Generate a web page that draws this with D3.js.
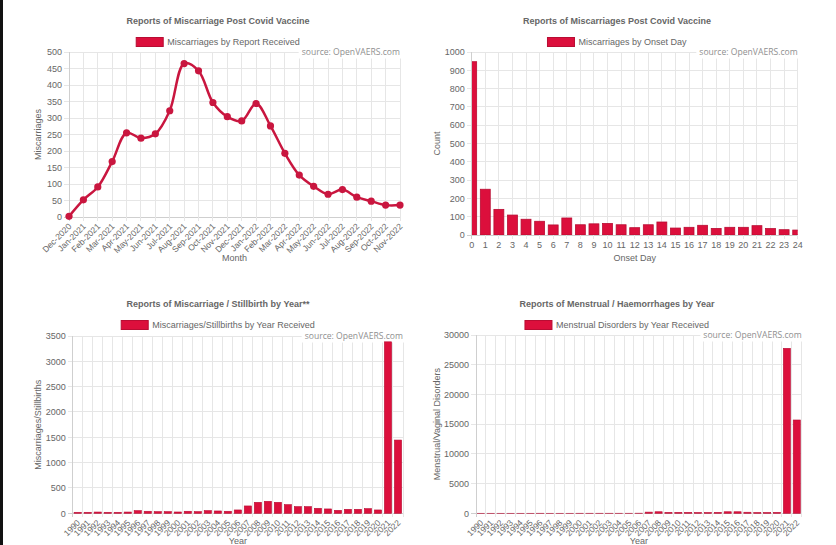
<!DOCTYPE html>
<html><head><meta charset="utf-8">
<script src="https://cdn.jsdelivr.net/npm/d3@7"></script>
<style>
html,body{margin:0;padding:0;background:#fff;}
svg{display:block;font-family:"Liberation Sans",Arial,Helvetica,sans-serif;}
</style></head>
<body>
<svg id="c" width="836" height="545"></svg>
<script>
const months = ["Dec-2020","Jan-2021","Feb-2021","Mar-2021","Apr-2021","May-2021","Jun-2021","Jul-2021","Aug-2021","Sep-2021","Oct-2021","Nov-2021","Dec-2021","Jan-2022","Feb-2022","Mar-2022","Apr-2022","May-2022","Jun-2022","Jul-2022","Aug-2022","Sep-2022","Oct-2022","Nov-2022"];
const monthValues = [2,52,91,168,255,239,252,322,465,443,347,304,291,344,276,193,127,93,69,83,60,48,36,36];

const onsetDays = ["0","1","2","3","4","5","6","7","8","9","10","11","12","13","14","15","16","17","18","19","20","21","22","23","24"];
const onsetValues = [947,250,140,109,86,75,55,93,56,61,63,56,40,56,71,38,42,53,36,42,42,51,35,29,27];

const years = ["1990","1991","1992","1993","1994","1995","1996","1997","1998","1999","2000","2001","2002","2003","2004","2005","2006","2007","2008","2009","2010","2011","2012","2013","2014","2015","2016","2017","2018","2019","2020","2021","2022"];
const stillbirthValues = [20,20,25,20,20,25,53,40,33,33,26,40,33,53,46,40,66,145,217,237,217,171,132,132,99,86,59,79,79,92,66,3385,1446];
const menstrualValues = [5,5,5,5,5,5,10,5,5,5,10,10,10,10,10,10,20,200,260,160,160,160,140,140,160,260,260,180,140,140,160,27760,15700];

const titles = ["Reports of Miscarriage Post Covid Vaccine","Reports of Miscarriages Post Covid Vaccine","Reports of Miscarriage / Stillbirth by Year**","Reports of Menstrual / Haemorrhages by Year"];
const legends = ["Miscarriages by Report Received","Miscarriages by Onset Day","Miscarriages/Stillbirths by Year Received","Menstrual Disorders by Year Received"];
const yTitles = ["Miscarriages","Count","Miscarriages/Stillbirths","Menstrual/Vaginal Disorders"];
const xTitles = ["Month","Onset Day","Year","Year"];
const sourceText = "source: OpenVAERS.com";

const RED = "#dc0f3c", RED_DARK = "#b80d33", LINE = "#c9163f";
const TXT = "#666", GRID = "#e6e6e6", AXIS = "#cfcfcf";

const svg = d3.select("#c");
svg.append("rect").attr("x",0).attr("y",0).attr("width",3).attr("height",545).attr("fill","#111");

function frame(cfg){
  const g = svg.append("g");
  const {x0,x1,y0,y1,cx,titleY,legendY,yMax,yStep,idx} = cfg;
  const y = d3.scaleLinear().domain([0,yMax]).range([y1,y0]);
  g.append("text").attr("x",cx).attr("y",titleY).attr("text-anchor","middle")
    .attr("font-size",9).attr("font-weight","bold").attr("fill",TXT).text(titles[idx]);
  const lt = g.append("text").attr("y",legendY+3.2).attr("font-size",9).attr("fill",TXT).text(legends[idx]);
  const tw = lt.node().getComputedTextLength();
  const total = 27 + 4 + tw;
  const lx = cx - total/2;
  g.append("rect").attr("x",lx).attr("y",legendY-4.5).attr("width",27).attr("height",9)
    .attr("fill",RED).attr("stroke",RED_DARK).attr("stroke-width",1);
  lt.attr("x",lx+31);
  const ticks = d3.range(0,yMax+yStep/2,yStep);
  ticks.forEach(t=>{
    g.append("line").attr("x1",x0-5).attr("x2",x1).attr("y1",y(t)).attr("y2",y(t))
      .attr("stroke", t===0?AXIS:GRID).attr("stroke-width",1).attr("shape-rendering","crispEdges");
    g.append("text").attr("x",x0-7).attr("y",y(t)+3.2).attr("text-anchor","end")
      .attr("font-size",9).attr("fill",TXT).text(t);
  });
  g.append("text").attr("transform",`translate(${cfg.yTitleX},${(y0+y1)/2}) rotate(-90)`)
    .attr("text-anchor","middle").attr("font-size",9).attr("fill",TXT).text(yTitles[idx]);
  g.append("text").attr("x",(x0+x1)/2).attr("y",cfg.xTitleY).attr("text-anchor","middle")
    .attr("font-size",9).attr("fill",TXT).text(xTitles[idx]);
  return {g,y};
}

function sourceLabel(g,x1,y0){
  const bg = g.append("rect").attr("fill","#fff");
  const t = g.append("text").attr("x",x1).attr("y",y0+3.2).attr("text-anchor","end")
    .attr("font-family","'Open Sans',sans-serif").attr("font-size",8.6).attr("fill","#8f8f8f").text(sourceText);
  const b = t.node().getBBox();
  bg.attr("x",b.x-3).attr("y",y0-5.5).attr("width",b.width+6).attr("height",12);
}

function vgrid(g,xs,y0,y1){
  xs.forEach((xx)=>{
    g.append("line").attr("x1",xx).attr("x2",xx).attr("y1",y0).attr("y2",y1+4)
      .attr("stroke", GRID).attr("stroke-width",1).attr("shape-rendering","crispEdges");
  });
}
function yAxisLine(g,x,y0,y1){
  g.append("line").attr("x1",x).attr("x2",x).attr("y1",y0).attr("y2",y1+4)
    .attr("stroke",AXIS).attr("stroke-width",1).attr("shape-rendering","crispEdges");
}
function rotLabels(g,labels,xf,yTop,fs){
  labels.forEach((l,i)=>{
    g.append("text").attr("transform",`translate(${xf(i)+3},${yTop}) rotate(-45)`)
      .attr("text-anchor","end").attr("font-size",fs).attr("fill",TXT).text(l);
  });
}

// ---- Chart 1: line
{
  const c = {x0:69,x1:400,y0:52,y1:217,cx:218,titleY:24,legendY:42,yMax:500,yStep:50,idx:0,yTitleX:41,xTitleY:261};
  const {g,y} = frame(c);
  const x = d3.scalePoint().domain(months).range([c.x0,c.x1]);
  vgrid(g, months.map(m=>x(m)).slice(1), c.y0, c.y1);
  yAxisLine(g,c.x0,c.y0,c.y1);
  sourceLabel(g,c.x1,c.y0);
  rotLabels(g, months, i=>x(months[i]), c.y1+10, 8.5);
  const line = d3.line().x((d,i)=>x(months[i])).y(d=>y(d)).curve(d3.curveCatmullRom.alpha(0.5));
  g.append("path").datum(monthValues).attr("d",line).attr("fill","none")
    .attr("stroke",LINE).attr("stroke-width",2.5);
  g.selectAll("circle.p").data(monthValues).join("circle")
    .attr("cx",(d,i)=>x(months[i])).attr("cy",d=>y(d)).attr("r",3.6).attr("fill",LINE);
}

// ---- Chart 2: onset day bars (bars centred on ticks)
{
  const c = {x0:471.7,x1:797.7,y0:52,y1:235,cx:617,titleY:24,legendY:42,yMax:1000,yStep:100,idx:1,yTitleX:440,xTitleY:261};
  const {g,y} = frame(c);
  const x = d3.scalePoint().domain(onsetDays).range([c.x0,c.x1]);
  vgrid(g, onsetDays.map(d=>x(d)).slice(1), c.y0, c.y1);
  sourceLabel(g,c.x1,c.y0);
  const step = x.step(), bw = step*0.73;
  g.append("clipPath").attr("id","clip2").append("rect")
    .attr("x",c.x0).attr("y",c.y0-2).attr("width",c.x1-c.x0).attr("height",c.y1-c.y0+2);
  g.append("g").attr("clip-path","url(#clip2)").selectAll("rect").data(onsetValues).join("rect")
    .attr("x",(d,i)=>x(onsetDays[i])-bw/2).attr("width",bw)
    .attr("y",d=>y(d)).attr("height",d=>c.y1-y(d))
    .attr("fill",RED).attr("stroke",RED_DARK).attr("stroke-width",0.8);
  yAxisLine(g,c.x0,c.y0,c.y1);
  onsetDays.forEach((d)=>{
    g.append("text").attr("x",x(d)).attr("y",c.y1+13).attr("text-anchor","middle")
      .attr("font-size",9).attr("fill",TXT).text(d);
  });
}

// ---- Chart 3 & 4: year bars
function yearChart(c, values){
  const {g,y} = frame(c);
  const x = d3.scaleBand().domain(years).range([c.x0,c.x1]).paddingInner(0).paddingOuter(0);
  const edges = years.map(yy=>x(yy)).slice(1).concat([c.x1]);
  vgrid(g, edges, c.y0, c.y1);
  yAxisLine(g,c.x0,c.y0,c.y1);
  sourceLabel(g,c.x1,c.y0);
  const bw = x.bandwidth()*0.72;
  g.selectAll("rect.b").data(values).join("rect")
    .attr("x",(d,i)=>x(years[i])+x.bandwidth()/2-bw/2).attr("width",bw)
    .attr("y",d=>y(d)).attr("height",d=>c.y1-y(d))
    .attr("fill",RED).attr("stroke",RED_DARK).attr("stroke-width",0.6);
  rotLabels(g, years, i=>x(years[i])+x.bandwidth()/2, c.y1+10, 8.5);
}
yearChart({x0:72.7,x1:403,y0:336,y1:513.3,cx:218,titleY:307,legendY:325,yMax:3500,yStep:500,idx:2,yTitleX:41,xTitleY:544}, stillbirthValues);
yearChart({x0:476,x1:801.7,y0:335,y1:513.3,cx:617,titleY:307,legendY:325,yMax:30000,yStep:5000,idx:3,yTitleX:440,xTitleY:544}, menstrualValues);
</script>
</body></html>
